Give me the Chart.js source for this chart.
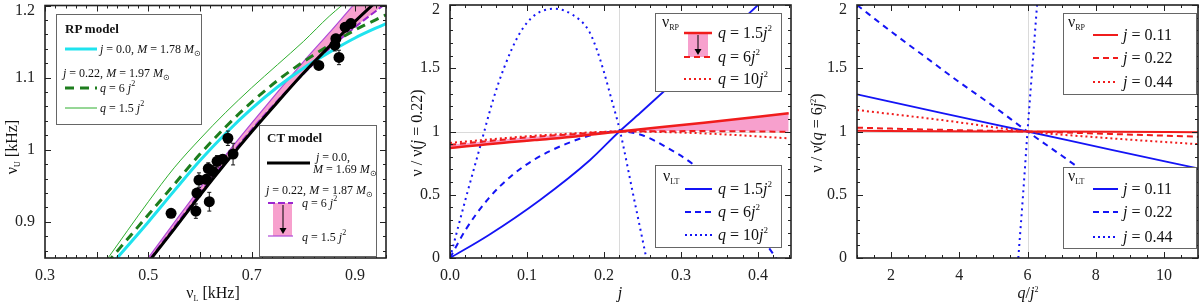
<!DOCTYPE html>
<html>
<head>
<meta charset="utf-8">
<title>QPO frequencies: RP and CT models</title>
<script src="https://cdn.jsdelivr.net/npm/chart.js@4.4.1/dist/chart.umd.min.js"></script>
<style>
  html, body { margin: 0; padding: 0; background: #fff; }
  body { position: relative; width: 1200px; height: 304px; overflow: hidden;
         font-family: 'Liberation Serif', 'Times New Roman', serif; color: #111; }
  .panel { position: absolute; top: 0; height: 304px; }
  .box { position: absolute; background: #fff; border: 1.5px solid #666; box-sizing: border-box; }
  .t { position: absolute; white-space: nowrap; line-height: 1; transform: translateY(-50%); }
  .s12 { font-size: 12px; }
  .s13 { font-size: 13px; }
  .s16 { font-size: 16px; }
  .b { font-weight: bold; }
  .sb { font-size: 8px; position: relative; top: 3px; }
  .sp { font-size: 8px; position: relative; top: -6px; }
  .s16 .sp { font-size: 9px; top: -7px; }
  .ytitle, .xtitle { position: absolute; white-space: nowrap; font-size: 16px; line-height: 1; }
  .ytitle { transform: translate(-50%, -50%) rotate(-90deg); }
  .xtitle { transform: translate(-50%, -50%); }
  #marks { position: absolute; left: 0; top: 0; }
</style>
</head>
<body>

<div class="panel" style="left:0;width:395px"><canvas id="c1"></canvas></div>
<div class="panel" style="left:400px;width:400px"><canvas id="c2"></canvas></div>
<div class="panel" style="left:800px;width:400px"><canvas id="c3"></canvas></div>

<!-- legend frames -->
<div class="box" style="left:56px;top:14px;width:146px;height:111px"></div>
<div class="box" style="left:259px;top:125px;width:118px;height:132px"></div>
<div class="box" style="left:655px;top:13px;width:127px;height:79px"></div>
<div class="box" style="left:655px;top:165px;width:127px;height:83px"></div>
<div class="box" style="left:1063px;top:13px;width:134px;height:82px"></div>
<div class="box" style="left:1063px;top:167px;width:134px;height:82px"></div>

<!-- legend samples -->
<svg id="marks" width="1200" height="304">
  <line x1="65" y1="49" x2="97" y2="49" stroke="#1fe3ee" stroke-width="3"/>
  <line x1="65" y1="88" x2="97" y2="88" stroke="#1d7d1d" stroke-width="3" stroke-dasharray="9 6"/>
  <line x1="65" y1="108" x2="97" y2="108" stroke="#2eae2e" stroke-width="1"/>
  <line x1="267" y1="163" x2="310" y2="163" stroke="#000" stroke-width="3"/>
  <rect x="273" y="203" width="19" height="33" fill="#f7a0cd"/>
  <line x1="268" y1="203" x2="293" y2="203" stroke="#9b27cf" stroke-width="2" stroke-dasharray="7 3"/>
  <line x1="268" y1="236" x2="293" y2="236" stroke="#b04ad8" stroke-width="1.2"/>
  <line x1="283" y1="205" x2="283" y2="229" stroke="#000" stroke-width="1"/>
  <polygon points="279.5,228 286.5,228 283,234" fill="#000"/>

  <rect x="688" y="33" width="20" height="24" fill="#f7a0cd"/>
  <line x1="684" y1="33" x2="712" y2="33" stroke="#f01c1c" stroke-width="2.5"/>
  <line x1="684" y1="57" x2="712" y2="57" stroke="#f01c1c" stroke-width="2" stroke-dasharray="6 4"/>
  <line x1="684" y1="79" x2="712" y2="79" stroke="#f01c1c" stroke-width="2" stroke-dasharray="2 3"/>
  <line x1="698" y1="35" x2="698" y2="50" stroke="#000" stroke-width="1"/>
  <polygon points="694.5,49 701.5,49 698,55" fill="#000"/>
  <line x1="685" y1="189" x2="712" y2="189" stroke="#1414f5" stroke-width="2"/>
  <line x1="685" y1="212" x2="712" y2="212" stroke="#1414f5" stroke-width="2" stroke-dasharray="6 4"/>
  <line x1="685" y1="235" x2="712" y2="235" stroke="#1414f5" stroke-width="2" stroke-dasharray="2 3"/>

  <line x1="1093" y1="35" x2="1118" y2="35" stroke="#f01c1c" stroke-width="2"/>
  <line x1="1093" y1="58" x2="1118" y2="58" stroke="#f01c1c" stroke-width="2" stroke-dasharray="6 4"/>
  <line x1="1093" y1="82" x2="1118" y2="82" stroke="#f01c1c" stroke-width="2" stroke-dasharray="2 3"/>
  <line x1="1093" y1="189" x2="1118" y2="189" stroke="#1414f5" stroke-width="2"/>
  <line x1="1093" y1="212" x2="1118" y2="212" stroke="#1414f5" stroke-width="2" stroke-dasharray="6 4"/>
  <line x1="1093" y1="237" x2="1118" y2="237" stroke="#1414f5" stroke-width="2" stroke-dasharray="2 3"/>
</svg>

<!-- legend text, left panel -->
<div class="t s13 b" style="left:65px;top:28px">RP model</div>
<div class="t s12" style="left:100px;top:49px"><i>j</i> = 0.0, <i>M</i> = 1.78 <i>M</i><span class="sb">⊙</span></div>
<div class="t s12" style="left:63px;top:73px"><i>j</i> = 0.22, <i>M</i> = 1.97 <i>M</i><span class="sb">⊙</span></div>
<div class="t s12" style="left:100px;top:88px"><i>q</i> = 6 <i>j</i><span class="sp">2</span></div>
<div class="t s12" style="left:100px;top:108px"><i>q</i> = 1.5 <i>j</i><span class="sp">2</span></div>

<div class="t s13 b" style="left:267px;top:137px">CT model</div>
<div class="t s12" style="left:316px;top:157px"><i>j</i> = 0.0,</div>
<div class="t s12" style="left:313px;top:169px"><i>M</i> = 1.69 <i>M</i><span class="sb">⊙</span></div>
<div class="t s12" style="left:266px;top:190px"><i>j</i> = 0.22, <i>M</i> = 1.87 <i>M</i><span class="sb">⊙</span></div>
<div class="t s12" style="left:302px;top:203px"><i>q</i> = 6 <i>j</i><span class="sp">2</span></div>
<div class="t s12" style="left:302px;top:237px"><i>q</i> = 1.5 <i>j</i><span class="sp">2</span></div>

<!-- legend text, middle panel -->
<div class="t s16" style="left:662px;top:22px">ν<span class="sb">RP</span></div>
<div class="t s16" style="left:718px;top:33px"><i>q</i> = 1.5<i>j</i><span class="sp">2</span></div>
<div class="t s16" style="left:718px;top:57px"><i>q</i> = 6<i>j</i><span class="sp">2</span></div>
<div class="t s16" style="left:718px;top:79px"><i>q</i> = 10<i>j</i><span class="sp">2</span></div>
<div class="t s16" style="left:663px;top:176px">ν<span class="sb">LT</span></div>
<div class="t s16" style="left:718px;top:189px"><i>q</i> = 1.5<i>j</i><span class="sp">2</span></div>
<div class="t s16" style="left:718px;top:212px"><i>q</i> = 6<i>j</i><span class="sp">2</span></div>
<div class="t s16" style="left:718px;top:235px"><i>q</i> = 10<i>j</i><span class="sp">2</span></div>

<!-- legend text, right panel -->
<div class="t s16" style="left:1068px;top:22px">ν<span class="sb">RP</span></div>
<div class="t s16" style="left:1123px;top:35px"><i>j</i> = 0.11</div>
<div class="t s16" style="left:1123px;top:58px"><i>j</i> = 0.22</div>
<div class="t s16" style="left:1123px;top:82px"><i>j</i> = 0.44</div>
<div class="t s16" style="left:1068px;top:176px">ν<span class="sb">LT</span></div>
<div class="t s16" style="left:1123px;top:189px"><i>j</i> = 0.11</div>
<div class="t s16" style="left:1123px;top:212px"><i>j</i> = 0.22</div>
<div class="t s16" style="left:1123px;top:237px"><i>j</i> = 0.44</div>

<!-- axis titles -->
<div class="ytitle" style="left:12px;top:147px">ν<span class="sb">U</span> [kHz]</div>
<div class="xtitle" style="left:213px;top:293px">ν<span class="sb">L</span> [kHz]</div>
<div class="ytitle" style="left:417px;top:133px">ν / ν(<i>j</i> = 0.22)</div>
<div class="xtitle" style="left:620px;top:293px"><i>j</i></div>
<div class="ytitle" style="left:817px;top:133px">ν / ν(<i>q</i> = 6<i>j</i><span class="sp">2</span>)</div>
<div class="xtitle" style="left:1028px;top:293px"><i>q</i>/<i>j</i><span class="sp">2</span></div>

<script>
// ---- left panel: upper vs lower QPO frequency [kHz] ----
const PTS_X   = [0.544, 0.592, 0.594, 0.598, 0.612, 0.616, 0.618, 0.625, 0.633, 0.644, 0.654, 0.664, 0.830, 0.861, 0.863, 0.869, 0.881, 0.892];
const PTS_Y   = [0.912, 0.915, 0.940, 0.958, 0.959, 0.974, 0.928, 0.970, 0.984, 0.987, 1.016, 0.994, 1.117, 1.145, 1.154, 1.128, 1.170, 1.175];
const PTS_ERR = [0.004, 0.010, 0.006, 0.010, 0.006, 0.008, 0.013, 0.008, 0.008, 0.006, 0.010, 0.015, 0.004, 0.008, 0.006, 0.010, 0.006, 0.006];

const RP_X       = [0.42, 0.50, 0.55, 0.60, 0.65, 0.70, 0.75, 0.80, 0.85, 0.90, 0.96];
const RP_J0      = [0.834, 0.900, 0.943, 0.985, 1.023, 1.057, 1.087, 1.113, 1.135, 1.155, 1.175];
const RP_Q6      = [0.843, 0.910, 0.952, 0.994, 1.032, 1.066, 1.096, 1.122, 1.145, 1.166, 1.187];
const RP_Q15     = [0.848, 0.928, 0.975, 1.015, 1.052, 1.086, 1.118, 1.150, 1.185, 1.215, 1.250];

const CT_X       = [0.48, 0.55, 0.60, 0.65, 0.70, 0.75, 0.80, 0.85, 0.90, 0.96];
const CT_J0      = [0.826, 0.890, 0.937, 0.982, 1.025, 1.066, 1.106, 1.143, 1.178, 1.218];
const CT_Q6      = [0.827, 0.893, 0.940, 0.985, 1.028, 1.068, 1.105, 1.140, 1.170, 1.203];
const CT_Q15     = [0.831, 0.899, 0.947, 0.993, 1.037, 1.080, 1.122, 1.162, 1.203, 1.250];

const X1_TICKS = [0.3, 0.5, 0.7, 0.9],   X1_LABELS = ['0.3', '0.5', '0.7', '0.9'];
const Y1_TICKS = [0.9, 1.0, 1.1, 1.2],   Y1_LABELS = ['0.9', '1', '1.1', '1.2'];

// ---- middle panel: frequency ratio vs spin j ----
const J_RP    = [0, 0.11, 0.143, 0.22, 0.33, 0.44];
const RP_A    = [0.870, 0.933, 0.948, 1.0, 1.070, 1.144];   // q = 1.5 j^2
const RP_B    = [0.895, 0.958, 0.972, 1.0, 1.003, 0.998];   // q = 6 j^2
const RP_C    = [0.910, 0.967, 0.979, 1.0, 0.985, 0.946];   // q = 10 j^2

const J_LT_A  = [0, 0.05, 0.117, 0.182, 0.22, 0.247, 0.30, 0.35, 0.40, 0.44];
const LT_A    = [0, 0.18, 0.459, 0.775, 1.0, 1.146, 1.44, 1.72, 2.0, 2.25];
const J_LT_B  = [0, 0.02, 0.05, 0.08, 0.11, 0.15, 0.19, 0.22, 0.25, 0.28, 0.316, 0.36, 0.40, 0.42, 0.44];
const LT_B    = [0, 0.22, 0.47, 0.65, 0.78, 0.90, 0.98, 1.0, 0.97, 0.88, 0.74, 0.50, 0.20, 0.03, -0.15];
const J_LT_C  = [0, 0.02, 0.04, 0.056, 0.07, 0.09, 0.11, 0.136, 0.16, 0.18, 0.19, 0.20, 0.21, 0.221, 0.238, 0.255, 0.26];
const LT_C    = [0, 0.46, 0.90, 1.25, 1.50, 1.77, 1.92, 1.97, 1.92, 1.80, 1.66, 1.47, 1.25, 1.0, 0.5, 0.0, -0.15];

const X2_TICKS = [0, 0.1, 0.2, 0.3, 0.4],   X2_LABELS = ['0.0', '0.1', '0.2', '0.3', '0.4'];
const Y_TICKS  = [0, 0.5, 1, 1.5, 2],       Y_LABELS  = ['0', '0.5', '1', '1.5', '2'];

// ---- right panel: frequency ratio vs q/j^2 ----
const Q_RP    = [1, 3.5, 6, 8.5, 11];
const RP_J11  = [1.005, 1.002, 1.0, 0.998, 0.995];
const RP_J22  = [1.030, 1.013, 1.0, 0.980, 0.959];
const RP_J44  = [1.170, 1.090, 1.0, 0.945, 0.900];
const Q_LT_11 = [1, 3.5, 6, 8.5, 11];
const LT_J11  = [1.294, 1.145, 1.0, 0.853, 0.709];
const Q_LT_22 = [1, 2, 3, 4, 5, 6, 7, 8, 9, 10, 11];
const LT_J22  = [2.0, 1.79, 1.59, 1.39, 1.20, 1.0, 0.81, 0.62, 0.45, 0.29, 0.14];
const Q_LT_44 = [5.73, 5.87, 6.0, 6.14, 6.28];
const LT_J44  = [0, 0.5, 1.0, 1.5, 2.0];

const X3_TICKS = [2, 4, 6, 8, 10],   X3_LABELS = ['2', '4', '6', '8', '10'];

const RED = '#f01c1c', BLUE = '#1414f5', PINK = '#f7a0cd';

Chart.defaults.font.family = "'Liberation Serif', 'Times New Roman', serif";
Chart.defaults.font.size = 16;
Chart.defaults.color = '#222';
Chart.defaults.animation = false;

const zip = (xs, ys) => xs.map((x, i) => ({ x, y: ys[i] }));

function curve(xs, ys, color, width, dash, extra) {
    return Object.assign({
        data: zip(xs, ys), borderColor: color, borderWidth: width, borderDash: dash || [],
        pointRadius: 0, cubicInterpolationMode: 'monotone', fill: false, showLine: true
    }, extra || {});
}

function axis(min, max, ticks, labels, pad, size, isY) {
    return {
        type: 'linear', min, max,
        grid: { display: false, drawTicks: false },
        border: { display: false },
        ticks: {
            padding: pad, autoSkip: false, maxRotation: 0,
            font: isY ? { lineHeight: '10px' } : {},
            // the top label sits a little below its tick so it is not cut off
            callback: (v, i) => (isY && i === labels.length - 1) ? ['', labels[i]] : labels[i]
        },
        afterBuildTicks: s => { s.ticks = ticks.map(v => ({ value: v })); },
        afterFit: s => {
            if (isY) s.width = size; else s.height = size;
            s.paddingTop = s.paddingBottom = s.paddingLeft = s.paddingRight = 0;
        }
    };
}

// tick positions with a flag for the long ones
function marks(min, max, step, major) {
    const out = [];
    for (let k = Math.ceil(min / step - 1e-6); k * step <= max + 1e-9; k++) {
        const v = k * step, r = v / major;
        out.push([v, Math.abs(r - Math.round(r)) < 1e-6]);
    }
    return out;
}

// boxed frame with inward ticks on every side, plus faint guide lines
const frame = {
    id: 'frame',
    beforeDatasetsDraw(chart, args, o) {
        const { ctx, chartArea: a, scales: { x, y } } = chart;
        ctx.save();
        ctx.strokeStyle = '#dadada';
        ctx.lineWidth = 1;
        ctx.beginPath();
        (o.vx || []).forEach(v => {
            const p = Math.round(x.getPixelForValue(v)) + 0.5;
            ctx.moveTo(p, a.top); ctx.lineTo(p, a.bottom);
        });
        (o.hy || []).forEach(v => {
            const p = Math.round(y.getPixelForValue(v)) + 0.5;
            ctx.moveTo(a.left, p); ctx.lineTo(a.right, p);
        });
        ctx.stroke();
        ctx.restore();
    },
    afterDatasetsDraw(chart, args, o) {
        const { ctx, chartArea: a, scales: { x, y } } = chart;
        ctx.save();
        ctx.strokeStyle = '#222';
        ctx.lineWidth = 1;
        ctx.beginPath();
        marks(x.min, x.max, o.xMinor, o.xMajor).forEach(([v, big]) => {
            const p = Math.round(x.getPixelForValue(v)) + 0.5, l = big ? 6 : 3;
            ctx.moveTo(p, a.bottom); ctx.lineTo(p, a.bottom - l);
            ctx.moveTo(p, a.top); ctx.lineTo(p, a.top + l);
        });
        marks(y.min, y.max, o.yMinor, o.yMajor).forEach(([v, big]) => {
            const p = Math.round(y.getPixelForValue(v)) + 0.5, l = big ? 6 : 3;
            ctx.moveTo(a.left, p); ctx.lineTo(a.left + l, p);
            ctx.moveTo(a.right, p); ctx.lineTo(a.right - l, p);
        });
        ctx.stroke();
        ctx.lineWidth = 1.6;
        ctx.strokeRect(a.left, a.top, a.right - a.left, a.bottom - a.top);
        ctx.restore();
    }
};

// error bars go under the data circles (dataset 0 of the left panel)
const errorBars = {
    id: 'errorBars',
    beforeDatasetDraw(chart, args) {
        if (args.index !== 0) return;
        const { ctx, scales: { x, y } } = chart;
        ctx.save();
        ctx.strokeStyle = '#111';
        ctx.lineWidth = 1;
        ctx.beginPath();
        PTS_X.forEach((v, i) => {
            const px = x.getPixelForValue(v);
            const y1 = y.getPixelForValue(PTS_Y[i] + PTS_ERR[i]);
            const y2 = y.getPixelForValue(PTS_Y[i] - PTS_ERR[i]);
            ctx.moveTo(px, y1); ctx.lineTo(px, y2);
            ctx.moveTo(px - 2, y1); ctx.lineTo(px + 2, y1);
            ctx.moveTo(px - 2, y2); ctx.lineTo(px + 2, y2);
        });
        ctx.stroke();
        ctx.restore();
    }
};

function baseOptions(padRight, xs, ys, frameOpts) {
    return {
        responsive: true,
        maintainAspectRatio: false,
        layout: { padding: { top: 5, right: padRight, left: 0, bottom: 0 } },
        scales: { x: xs, y: ys },
        plugins: {
            legend: { display: false },
            tooltip: { enabled: false },
            filler: { drawTime: 'beforeDatasetsDraw' },
            frame: frameOpts
        }
    };
}

// left panel
new Chart(document.getElementById('c1'), {
    type: 'line',
    data: {
        datasets: [
            { data: zip(PTS_X, PTS_Y), showLine: false, pointRadius: 5.5, pointBackgroundColor: '#000',
              pointBorderColor: '#000', pointBorderWidth: 0 },
            curve(CT_X, CT_J0, '#000', 3),
            curve(RP_X, RP_Q6, '#1d7d1d', 3, [9, 6]),
            curve(RP_X, RP_J0, '#1fe3ee', 3),
            curve(RP_X, RP_Q15, '#2eae2e', 1),
            curve(CT_X, CT_Q6, '#9b27cf', 2, [7, 3]),
            curve(CT_X, CT_Q15, '#b04ad8', 1.2, [], { fill: 5, backgroundColor: PINK })
        ]
    },
    options: baseOptions(9,
        axis(0.3, 0.96, X1_TICKS, X1_LABELS, 8, 46, false),
        axis(0.85, 1.2, Y1_TICKS, Y1_LABELS, 10, 45, true),
        { xMinor: 0.02, xMajor: 0.1, yMinor: 0.02, yMajor: 0.1 }),
    plugins: [frame, errorBars]
});

// middle panel
new Chart(document.getElementById('c2'), {
    type: 'line',
    data: {
        datasets: [
            curve(J_RP, RP_A, RED, 2.5, [], { fill: 1, backgroundColor: PINK }),
            curve(J_RP, RP_B, RED, 2, [6, 4]),
            curve(J_RP, RP_C, RED, 2, [2, 3]),
            curve(J_LT_A, LT_A, BLUE, 1.8),
            curve(J_LT_B, LT_B, BLUE, 2, [6, 5]),
            curve(J_LT_C, LT_C, BLUE, 2, [2, 4])
        ]
    },
    options: baseOptions(9,
        axis(0, 0.443, X2_TICKS, X2_LABELS, 8, 46, false),
        axis(0, 2, Y_TICKS, Y_LABELS, 10, 50, true),
        { xMinor: 0.02, xMajor: 0.1, yMinor: 0.1, yMajor: 0.5, vx: [0.22], hy: [1] }),
    plugins: [frame]
});

// right panel
new Chart(document.getElementById('c3'), {
    type: 'line',
    data: {
        datasets: [
            curve(Q_RP, RP_J11, RED, 2),
            curve(Q_RP, RP_J22, RED, 2, [6, 4]),
            curve(Q_RP, RP_J44, RED, 2, [2, 3]),
            curve(Q_LT_11, LT_J11, BLUE, 1.8),
            curve(Q_LT_22, LT_J22, BLUE, 2, [6, 5]),
            curve(Q_LT_44, LT_J44, BLUE, 2, [2, 4])
        ]
    },
    options: baseOptions(2,
        axis(1, 11, X3_TICKS, X3_LABELS, 8, 46, false),
        axis(0, 2, Y_TICKS, Y_LABELS, 10, 57, true),
        { xMinor: 0.5, xMajor: 2, yMinor: 0.1, yMajor: 0.5, vx: [6], hy: [1] }),
    plugins: [frame]
});
</script>
</body>
</html>
